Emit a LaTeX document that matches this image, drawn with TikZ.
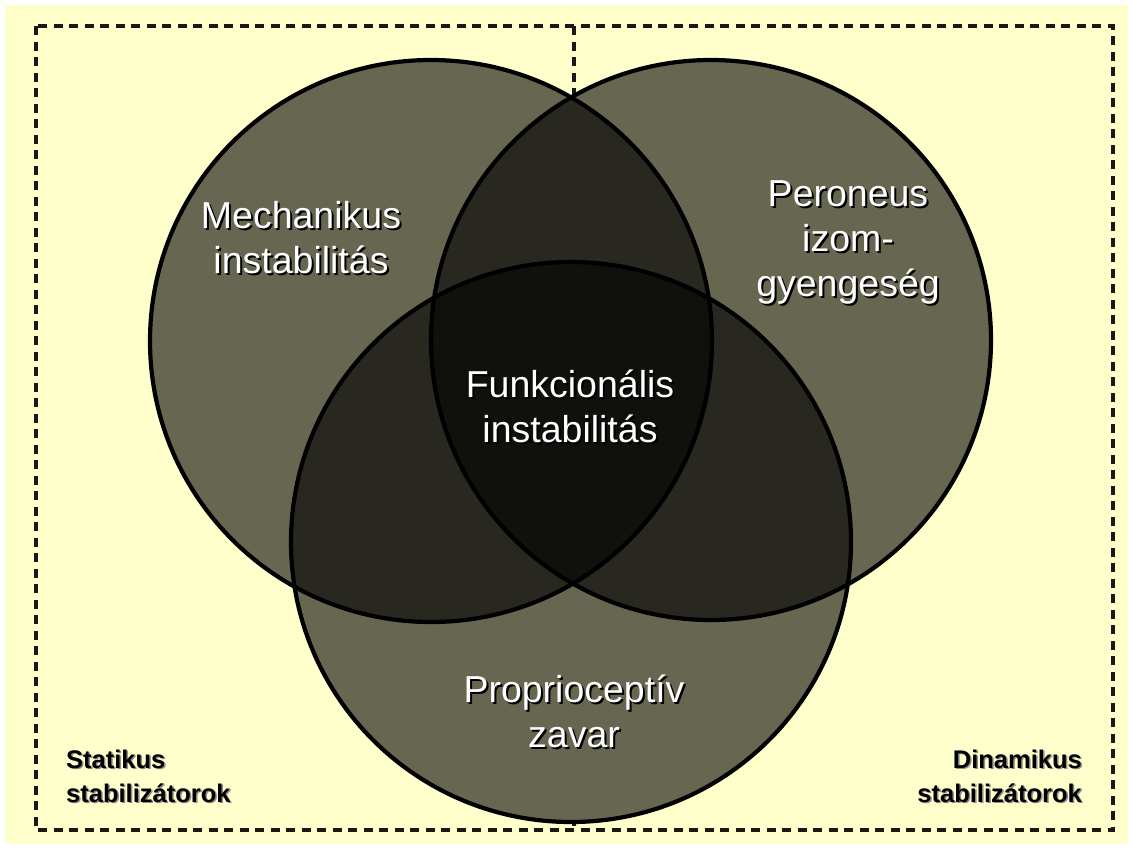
\documentclass[tikz,border=0pt]{standalone}
\usepackage{fontspec}
\setmainfont{Liberation Sans}
\definecolor{bgyellow}{HTML}{FFFFCC}
\tikzset{
  circfill/.style={fill=black, fill opacity=0.6, draw=none},
  circline/.style={draw=black, line width=4.2pt},
  frame/.style={draw=black!90, line width=3.2pt, dash pattern=on 9pt off 6.5pt},
  lbl/.style={text=white, align=center, inner sep=0pt, font=\fontsize{37.5}{45}\selectfont},
  lblshadow/.style={lbl, text=black, xshift=2pt, yshift=-2pt},
  corner/.style={text=black, inner sep=0pt, font=\bfseries\fontsize{25.5}{34}\selectfont},
  cornershadow/.style={corner, text=black!45, xshift=1.5pt, yshift=-1.5pt}
}
\begin{document}
\begin{tikzpicture}[x=1pt,y=-1pt]
\useasboundingbox (0,0) rectangle (1133,849);
\fill[white] (0,0) rectangle (1133,849);
\fill[bgyellow] (5,5) rectangle (1128,844);
% frame
\coordinate (tl) at (36,26);
\coordinate (br) at (1113,830);
\coordinate (mtop) at (574,26);
\coordinate (mbot) at (574,830);
\draw[frame] (tl) rectangle (br);
\draw[frame] (mtop) -- (mbot);
% circles
\coordinate (c1) at (431,341);
\coordinate (c2) at (711,340);
\coordinate (c3) at (571,542);
\fill[bgyellow] (c1) circle[radius=281];
\fill[bgyellow] (c2) circle[radius=280];
\fill[bgyellow] (c3) circle[radius=280];
\fill[circfill] (c1) circle[radius=281];
\fill[circfill] (c2) circle[radius=280];
\fill[circfill] (c3) circle[radius=280];
\draw[circline] (c1) circle[radius=281];
\draw[circline] (c2) circle[radius=280];
\draw[circline] (c3) circle[radius=280];
% labels
\node[lblshadow] (mechS) at (301,238) {Mechanikus\\instabilitás};
\node[lbl] (mech) at (301,238) {Mechanikus\\instabilitás};
\node[lblshadow] (peroS) at (848,242) {Peroneus\\izom-\\gyengeség};
\node[lbl] (pero) at (848,242) {Peroneus\\izom-\\gyengeség};
\node[lblshadow] (funkS) at (570,406) {Funkcionális\\instabilitás};
\node[lbl] (funk) at (570,406) {Funkcionális\\instabilitás};
\node[lblshadow] (propS) at (574,711) {Proprioceptív\\zavar};
\node[lbl] (prop) at (574,711) {Proprioceptív\\zavar};
% corner labels
\node[cornershadow, anchor=west, align=left] (statS) at (66,776) {Statikus\\stabilizátorok};
\node[corner, anchor=west, align=left] (stat) at (66,776) {Statikus\\stabilizátorok};
\node[cornershadow, anchor=east, align=right] (dinS) at (1082,776) {Dinamikus\\stabilizátorok};
\node[corner, anchor=east, align=right] (din) at (1082,776) {Dinamikus\\stabilizátorok};
\end{tikzpicture}
\end{document}
